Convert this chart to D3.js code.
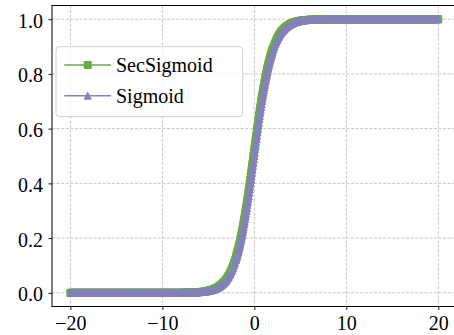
<!DOCTYPE html>
<html>
<head>
<meta charset="utf-8">
<script src="https://cdn.jsdelivr.net/npm/d3@7"></script>
<style>
  body { margin: 0; background: #fff; }
  text { font-family: "Liberation Serif", "Times New Roman", Times, serif; }
</style>
</head>
<body>
<div id="canvas"></div>
<script>
// sample x positions (dense where the curve is steep)
const xs = [
  -20,-19.9,-19.8,-19.7,-19.6,-19.5,-19.4,-19.3,-19.2,-19.1,
  -19,-18.9,-18.8,-18.7,-18.6,-18.5,-18.4,-18.3,-18.2,-18.1,
  -18,-17.9,-17.8,-17.7,-17.6,-17.5,-17.4,-17.3,-17.2,-17.1,
  -17,-16.9,-16.8,-16.7,-16.6,-16.5,-16.4,-16.3,-16.2,-16.1,
  -16,-15.9,-15.8,-15.7,-15.6,-15.5,-15.4,-15.3,-15.2,-15.1,
  -15,-14.9,-14.8,-14.7,-14.6,-14.5,-14.4,-14.3,-14.2,-14.1,
  -14,-13.9,-13.8,-13.7,-13.6,-13.5,-13.4,-13.3,-13.2,-13.1,
  -13,-12.9,-12.8,-12.7,-12.6,-12.5,-12.4,-12.3,-12.2,-12.1,
  -12,-11.9,-11.8,-11.7,-11.6,-11.5,-11.4,-11.3,-11.2,-11.1,
  -11,-10.9,-10.8,-10.7,-10.6,-10.5,-10.4,-10.3,-10.2,-10.1,
  -10,-9.9,-9.8,-9.7,-9.6,-9.5,-9.4,-9.3,-9.2,-9.1,
  -9,-8.9,-8.8,-8.7,-8.6,-8.5,-8.4,-8.3,-8.2,-8.1,
  -8,-7.9,-7.8,-7.7,-7.6,-7.5,-7.4,-7.3,-7.2,-7.1,
  -7,-6.9,-6.8,-6.7,-6.6,-6.5,-6.4,-6.3,-6.2,-6.1,
  -6,-5.9,-5.8,-5.7,-5.6,-5.5,-5.4,-5.3,-5.2,-5.1,
  -5,-4.9,-4.8,-4.7,-4.6,-4.5,-4.4,-4.3,-4.2,-4.1,
  -4,-3.9,-3.8,-3.7,-3.6,-3.5,-3.4,-3.3,-3.2,-3.1,
  -3,-2.9,-2.8,-2.7,-2.6,-2.5,-2.4,-2.3,-2.2,-2.1,
  -2,-1.95,-1.9,-1.85,-1.8,-1.75,-1.7,-1.65,-1.6,-1.55,
  -1.5,-1.45,-1.4,-1.35,-1.3,-1.25,-1.2,-1.15,-1.1,-1.05,
  -1,-0.95,-0.9,-0.85,-0.8,-0.75,-0.7,-0.65,-0.6,-0.55,
  -0.5,-0.45,-0.4,-0.35,-0.3,-0.25,-0.2,-0.15,-0.1,-0.05,
  0,
  0.05,0.1,0.15,0.2,0.25,0.3,0.35,0.4,0.45,0.5,
  0.55,0.6,0.65,0.7,0.75,0.8,0.85,0.9,0.95,1,
  1.05,1.1,1.15,1.2,1.25,1.3,1.35,1.4,1.45,1.5,
  1.55,1.6,1.65,1.7,1.75,1.8,1.85,1.9,1.95,2,
  2.1,2.2,2.3,2.4,2.5,2.6,2.7,2.8,2.9,3,
  3.1,3.2,3.3,3.4,3.5,3.6,3.7,3.8,3.9,4,
  4.1,4.2,4.3,4.4,4.5,4.6,4.7,4.8,4.9,5,
  5.1,5.2,5.3,5.4,5.5,5.6,5.7,5.8,5.9,6,
  6.1,6.2,6.3,6.4,6.5,6.6,6.7,6.8,6.9,7,
  7.1,7.2,7.3,7.4,7.5,7.6,7.7,7.8,7.9,8,
  8.1,8.2,8.3,8.4,8.5,8.6,8.7,8.8,8.9,9,
  9.1,9.2,9.3,9.4,9.5,9.6,9.7,9.8,9.9,10,
  10.1,10.2,10.3,10.4,10.5,10.6,10.7,10.8,10.9,11,
  11.1,11.2,11.3,11.4,11.5,11.6,11.7,11.8,11.9,12,
  12.1,12.2,12.3,12.4,12.5,12.6,12.7,12.8,12.9,13,
  13.1,13.2,13.3,13.4,13.5,13.6,13.7,13.8,13.9,14,
  14.1,14.2,14.3,14.4,14.5,14.6,14.7,14.8,14.9,15,
  15.1,15.2,15.3,15.4,15.5,15.6,15.7,15.8,15.9,16,
  16.1,16.2,16.3,16.4,16.5,16.6,16.7,16.8,16.9,17,
  17.1,17.2,17.3,17.4,17.5,17.6,17.7,17.8,17.9,18,
  18.1,18.2,18.3,18.4,18.5,18.6,18.7,18.8,18.9,19,
  19.1,19.2,19.3,19.4,19.5,19.6,19.7,19.8,19.9,20
];

const secSigmoidY = [
  0,0,0,0,0,0,0,0,0,0, 0,0,0,0,0,0,0,0,0,0,
  0,0,0,0,0,0,0,0,0,0, 0,0,0,0,0,0,0,0,0,0,
  0,0,0,0,0,0,0,0,0,0, 0,0,0,0,0,0,0,0,0,0,
  0,0,0,0,0,0,0,0,0,0, 0,0,0,0,0,0,0,0,0,0,
  0,0,0,0,0,0,0,0,0,0, 0,0,0,0,0,0,0,0,0,0,
  0,0,0,0,0,0,0,0,0,0, 0,0,0,0,0,0,0,0,0,0,
  0,0,0,0,0.001,0.001,0.001,0.001,0.001,0.001,
  0.001,0.001,0.001,0.001,0.002,0.002,0.002,0.002,0.002,0.002,
  0.003,0.003,0.003,0.004,0.004,0.004,0.005,0.005,0.006,0.007,
  0.007,0.008,0.009,0.010,0.011,0.012,0.013,0.015,0.016,0.018,
  0.020,0.022,0.024,0.027,0.029,0.032,0.036,0.039,0.043,0.047,
  0.052,0.057,0.063,0.069,0.076,0.083,0.091,0.100,0.109,0.119,
  0.130,0.136,0.142,0.148,0.154,0.161,0.168,0.175,0.182,0.190,
  0.198,0.206,0.214,0.223,0.231,0.240,0.250,0.259,0.269,0.279,
  0.289,0.299,0.310,0.321,0.332,0.343,0.354,0.366,0.378,0.389,
  0.401,0.413,0.426,0.438,0.450,0.463,0.475,0.488,0.500,0.512,
  0.525,
  0.537,0.550,0.562,0.574,0.587,0.599,0.611,0.622,0.634,0.646,
  0.657,0.668,0.679,0.690,0.701,0.711,0.721,0.731,0.741,0.750,
  0.760,0.769,0.777,0.786,0.794,0.802,0.810,0.818,0.825,0.832,
  0.839,0.846,0.852,0.858,0.864,0.870,0.875,0.881,0.886,0.891,
  0.900,0.909,0.917,0.924,0.931,0.937,0.943,0.948,0.953,0.957,
  0.961,0.964,0.968,0.971,0.973,0.976,0.978,0.980,0.982,0.984,
  0.985,0.987,0.988,0.989,0.990,0.991,0.992,0.993,0.993,0.994,
  0.995,0.995,0.996,0.996,0.996,0.997,0.997,0.997,0.998,0.998,
  0.998,0.998,0.998,0.998,0.999,0.999,0.999,0.999,0.999,0.999,
  0.999,0.999,0.999,0.999,1,1,1,1,1,1,
  1,1,1,1,1,1,1,1,1,1, 1,1,1,1,1,1,1,1,1,1,
  1,1,1,1,1,1,1,1,1,1, 1,1,1,1,1,1,1,1,1,1,
  1,1,1,1,1,1,1,1,1,1, 1,1,1,1,1,1,1,1,1,1,
  1,1,1,1,1,1,1,1,1,1, 1,1,1,1,1,1,1,1,1,1,
  1,1,1,1,1,1,1,1,1,1, 1,1,1,1,1,1,1,1,1,1,
  1,1,1,1,1,1,1,1,1,1, 1,1,1,1,1,1,1,1,1,1
];

const sigmoidY = [
  0,0,0,0,0,0,0,0,0,0, 0,0,0,0,0,0,0,0,0,0,
  0,0,0,0,0,0,0,0,0,0, 0,0,0,0,0,0,0,0,0,0,
  0,0,0,0,0,0,0,0,0,0, 0,0,0,0,0,0,0,0,0,0,
  0,0,0,0,0,0,0,0,0,0, 0,0,0,0,0,0,0,0,0,0,
  0,0,0,0,0,0,0,0,0,0, 0,0,0,0,0,0,0,0,0,0,
  0,0,0,0,0,0,0,0,0,0, 0,0,0,0,0,0,0,0,0,0,
  0,0,0,0,0,0.001,0.001,0.001,0.001,0.001,
  0.001,0.001,0.001,0.001,0.001,0.002,0.002,0.002,0.002,0.002,
  0.002,0.003,0.003,0.003,0.004,0.004,0.004,0.005,0.005,0.006,
  0.007,0.007,0.008,0.009,0.010,0.011,0.012,0.013,0.015,0.016,
  0.018,0.020,0.022,0.024,0.027,0.029,0.032,0.036,0.039,0.043,
  0.047,0.052,0.057,0.063,0.069,0.076,0.083,0.091,0.100,0.109,
  0.119,0.125,0.130,0.136,0.142,0.148,0.154,0.161,0.168,0.175,
  0.182,0.190,0.198,0.206,0.214,0.223,0.231,0.240,0.250,0.259,
  0.269,0.279,0.289,0.299,0.310,0.321,0.332,0.343,0.354,0.366,
  0.378,0.389,0.401,0.413,0.426,0.438,0.450,0.463,0.475,0.488,
  0.500,
  0.512,0.525,0.537,0.550,0.562,0.574,0.587,0.599,0.611,0.622,
  0.634,0.646,0.657,0.668,0.679,0.690,0.701,0.711,0.721,0.731,
  0.741,0.750,0.760,0.769,0.777,0.786,0.794,0.802,0.810,0.818,
  0.825,0.832,0.839,0.846,0.852,0.858,0.864,0.870,0.875,0.881,
  0.891,0.900,0.909,0.917,0.924,0.931,0.937,0.943,0.948,0.953,
  0.957,0.961,0.964,0.968,0.971,0.973,0.976,0.978,0.980,0.982,
  0.984,0.985,0.987,0.988,0.989,0.990,0.991,0.992,0.993,0.993,
  0.994,0.995,0.995,0.996,0.996,0.996,0.997,0.997,0.997,0.998,
  0.998,0.998,0.998,0.998,0.998,0.999,0.999,0.999,0.999,0.999,
  0.999,0.999,0.999,0.999,0.999,1,1,1,1,1,
  1,1,1,1,1,1,1,1,1,1, 1,1,1,1,1,1,1,1,1,1,
  1,1,1,1,1,1,1,1,1,1, 1,1,1,1,1,1,1,1,1,1,
  1,1,1,1,1,1,1,1,1,1, 1,1,1,1,1,1,1,1,1,1,
  1,1,1,1,1,1,1,1,1,1, 1,1,1,1,1,1,1,1,1,1,
  1,1,1,1,1,1,1,1,1,1, 1,1,1,1,1,1,1,1,1,1,
  1,1,1,1,1,1,1,1,1,1, 1,1,1,1,1,1,1,1,1,1
];

const seriesNames = ["SecSigmoid", "Sigmoid"];
const xTicks = [-20, -10, 0, 10, 20];
const yTicks = [0.0, 0.2, 0.4, 0.6, 0.8, 1.0];

const colors = { SecSigmoid: "#6aab46", Sigmoid: "#8581b9" };
const shapes = { SecSigmoid: "square", Sigmoid: "triangle" };

function markerPath(kind, s) {
  const h = s / 2;
  if (kind === "square") return `M${-h},${-h}H${h}V${h}H${-h}Z`;
  return `M0,${-h}L${h},${h}L${-h},${h}Z`;
}

function drawGraph() {
  const width = 454, height = 335;
  const left = 52, right = 456.7, top = 5.5, bottom = 306.5;

  const svg = d3.select("#canvas").append("svg")
    .attr("width", width)
    .attr("height", height);

  const x = d3.scaleLinear().domain([-22, 22]).range([left, right]);
  const y = d3.scaleLinear().domain([-0.05, 1.05]).range([bottom, top]);

  // grid
  const grid = svg.append("g")
    .attr("stroke", "#b8b8b8")
    .attr("stroke-width", 0.8)
    .attr("stroke-dasharray", "3,1.6");
  grid.selectAll(".gx").data(xTicks).enter().append("line")
    .attr("x1", d => x(d)).attr("x2", d => x(d))
    .attr("y1", top).attr("y2", bottom);
  grid.selectAll(".gy").data(yTicks).enter().append("line")
    .attr("x1", left).attr("x2", right)
    .attr("y1", d => y(d)).attr("y2", d => y(d));

  // series
  const series = [
    { name: "SecSigmoid", ys: secSigmoidY },
    { name: "Sigmoid", ys: sigmoidY }
  ];
  const line = d3.line().x(d => x(d[0])).y(d => y(d[1]));

  series.forEach(s => {
    const pts = xs.map((v, i) => [v, s.ys[i]]);
    const g = svg.append("g");
    g.append("path")
      .attr("d", line(pts))
      .attr("fill", "none")
      .attr("stroke", colors[s.name])
      .attr("stroke-width", 1.5);
    g.selectAll("path.m").data(pts).enter().append("path")
      .attr("class", "m")
      .attr("d", markerPath(shapes[s.name], 7))
      .attr("transform", d => `translate(${x(d[0])},${y(d[1])})`)
      .attr("fill", colors[s.name])
      .attr("stroke", colors[s.name])
      .attr("stroke-width", 1);
  });

  // axes
  const fmtX = d => d < 0 ? "\u2212" + Math.abs(d) : String(d);
  const xAxis = svg.append("g")
    .attr("transform", `translate(0,${bottom})`)
    .call(d3.axisBottom(x).tickValues(xTicks).tickFormat(fmtX).tickSize(3.5).tickPadding(5.5));
  const yAxis = svg.append("g")
    .attr("transform", `translate(${left},0)`)
    .call(d3.axisLeft(y).tickValues(yTicks).tickFormat(d3.format(".1f")).tickSize(3.5).tickPadding(5.5));

  [xAxis, yAxis].forEach(a => {
    a.attr("font-family", null);
    a.select(".domain").remove();
    a.selectAll("line").attr("stroke", "#000").attr("stroke-width", 0.9);
    a.selectAll("text")
      .attr("fill", "#000")
      .style("font-family", "'Liberation Serif', 'Times New Roman', serif")
      .style("font-size", "20px");
  });
  yAxis.selectAll("text").attr("dy", "0.4em");

  // frame
  svg.append("rect")
    .attr("x", left).attr("y", top)
    .attr("width", right - left).attr("height", bottom - top)
    .attr("fill", "none")
    .attr("stroke", "#000")
    .attr("stroke-width", 1);

  // legend
  const lg = svg.append("g");
  lg.append("rect")
    .attr("x", 56).attr("y", 46.7)
    .attr("width", 186.7).attr("height", 70)
    .attr("rx", 3.5)
    .attr("fill", "#fff").attr("fill-opacity", 0.8)
    .attr("stroke", "#d0d0d0").attr("stroke-width", 1);

  const rows = [65, 95.7];
  seriesNames.forEach((name, i) => {
    const ly = rows[i];
    lg.append("line")
      .attr("x1", 64.3).attr("x2", 111)
      .attr("y1", ly).attr("y2", ly)
      .attr("stroke", colors[name]).attr("stroke-width", 1.5);
    lg.append("path")
      .attr("d", markerPath(shapes[name], 7))
      .attr("transform", `translate(87.7,${ly})`)
      .attr("fill", colors[name])
      .attr("stroke", colors[name]).attr("stroke-width", 1);
    lg.append("text")
      .attr("x", 116).attr("y", ly + 6.8)
      .style("font-size", "20px")
      .attr("fill", "#000")
      .text(name);
  });
}

drawGraph();
</script>
</body>
</html>
